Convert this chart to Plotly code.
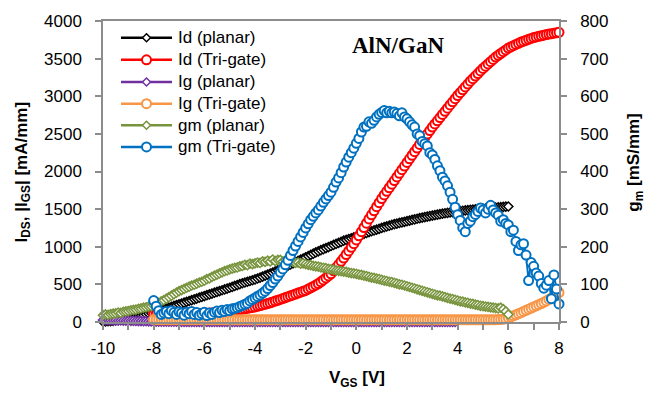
import numpy as np
import plotly.graph_objects as go

# Gate-voltage sweeps (V), 0.1 V step
VGS_PLANAR = np.round(np.arange(-10.0, 6.0001, 0.1), 1)
VGS_TRIGATE = np.round(np.arange(-8.0, 8.0001, 0.1), 1)

# X-axis tick positions and labels
X_TICKS = [-10, -8, -6, -4, -2, 0, 2, 4, 6, 8]
X_TICK_LABELS = ["-10", "-8", "-6", "-4", "-2", "0", "2", "4", "6", "8"]

# Drain current, planar device (mA/mm), Vgs = -10 ... 6
ID_PLANAR = [
    5, 7, 10, 13, 16, 20, 25, 30, 35, 40,
    45, 53, 61, 69, 77, 85, 94, 103, 112, 121,
    130, 140, 150, 160, 170, 180, 191, 202, 213, 224,
    235, 246, 257, 268, 279, 290, 301, 312, 323, 334,
    345, 356, 367, 378, 389, 400, 411, 422, 433, 444,
    455, 467, 479, 491, 503, 515, 525, 535, 545, 555,
    565, 578, 591, 604, 617, 630, 644, 658, 672, 686,
    700, 716, 732, 748, 764, 780, 796, 812, 828, 844,
    860, 876, 892, 908, 924, 940, 954, 968, 982, 996,
    1010, 1024, 1038, 1052, 1066, 1080, 1091, 1102, 1113, 1124,
    1135, 1147, 1159, 1171, 1183, 1195, 1206, 1217, 1228, 1239,
    1250, 1260, 1270, 1280, 1290, 1300, 1308, 1316, 1324, 1332,
    1340, 1348, 1356, 1364, 1372, 1380, 1387, 1394, 1401, 1408,
    1415, 1421, 1427, 1433, 1439, 1445, 1450, 1455, 1460, 1465,
    1470, 1474, 1478, 1482, 1486, 1490, 1493, 1496, 1499, 1502,
    1505, 1508, 1511, 1514, 1517, 1520, 1523, 1526, 1529, 1532,
    1535,
]

# Drain current, tri-gate device (mA/mm), Vgs = -8 ... 8
ID_TRIGATE = [
    100, 100, 101, 101, 102, 102, 103, 103, 104, 104,
    105, 106, 107, 108, 109, 110, 111, 112, 113, 114,
    115, 117, 119, 121, 124, 127, 130, 134, 137, 141,
    145, 150, 155, 160, 165, 170, 176, 182, 188, 194,
    200, 209, 218, 227, 236, 245, 256, 267, 278, 289,
    300, 312, 324, 336, 348, 360, 372, 384, 396, 408,
    420, 437, 454, 472, 491, 510, 534, 559, 585, 612,
    640, 680, 721, 763, 806, 850, 897, 944, 992, 1041,
    1090, 1145, 1200, 1256, 1313, 1370, 1424, 1478, 1532, 1586,
    1640, 1688, 1736, 1784, 1832, 1880, 1928, 1976, 2024, 2072,
    2120, 2168, 2216, 2264, 2312, 2360, 2406, 2452, 2498, 2544,
    2590, 2632, 2674, 2716, 2758, 2800, 2842, 2884, 2926, 2968,
    3010, 3048, 3086, 3124, 3162, 3200, 3234, 3268, 3302, 3336,
    3370, 3400, 3430, 3460, 3490, 3520, 3544, 3568, 3592, 3616,
    3640, 3656, 3672, 3688, 3704, 3720, 3732, 3744, 3756, 3768,
    3780, 3788, 3796, 3804, 3812, 3820, 3826, 3832, 3838, 3844,
    3850,
]

# Gate leakage, planar device (mA/mm), Vgs = -10 ... 6
IG_PLANAR = [
    26, 25, 25, 24, 23, 22, 21, 20, 19, 18,
    17, 16, 15, 14, 13, 12, 11, 10, 9, 8,
    7, 6, 6, 5, 5, 5, 4, 4, 4, 4,
    3, 3, 3, 3, 3, 3, 3, 2, 2, 2,
    2, 2, 2, 2, 2, 2, 2, 2, 2, 2,
    1, 1, 1, 1, 1, 1, 1, 1, 1, 1,
    1, 1, 1, 1, 1, 1, 1, 1, 1, 1,
    1, 1, 1, 1, 1, 1, 1, 1, 1, 1,
    1, 1, 1, 1, 1, 1, 1, 1, 1, 1,
    0, 0, 0, 0, 0, 0, 0, 0, 0, 0,
    0, 0, 0, 0, 0, 0, 0, 0, 0, 0,
    0, 0, 0, 0, 0, 0, 0, 0, 0, 0,
    0, 0, 0, 0, 0, 0, 0, 0, 0, 0,
    0, 0, 0, 0, 0, 0, 0, 0, 0, 0,
    -1, -1, -1, -1, -1, -1, -1, -1, -1, -1,
    -1, -1, -2, -2, -3, -3, -4, -5, -6, -8,
    -10,
]

# Gate leakage, tri-gate device (mA/mm), Vgs = -8 ... 8
IG_TRIGATE = [
    32, 30, 31, 29, 30, 31, 30, 29, 30, 31,
    30, 29, 30, 31, 30, 29, 30, 30, 31, 30,
    29, 30, 31, 30, 29, 30, 30, 31, 30, 29,
    30, 31, 30, 29, 30, 30, 31, 30, 29, 30,
    30, 29, 30, 31, 30, 29, 30, 30, 31, 30,
    29, 30, 31, 30, 29, 30, 30, 31, 30, 29,
    30, 31, 30, 29, 30, 30, 31, 30, 29, 30,
    30, 29, 30, 31, 30, 29, 30, 30, 31, 30,
    29, 30, 31, 30, 29, 30, 30, 31, 30, 29,
    30, 31, 30, 29, 30, 30, 31, 30, 29, 30,
    30, 29, 30, 31, 30, 29, 30, 30, 31, 30,
    29, 30, 31, 30, 29, 30, 30, 31, 30, 29,
    30, 31, 30, 29, 30, 30, 31, 30, 29, 30,
    30, 29, 30, 31, 30, 31, 32, 34, 37, 42,
    55, 68, 82, 96, 110, 124, 140, 155, 170, 185,
    200, 215, 230, 246, 262, 280, 300, 320, 342, 365,
    392,
]

# Transconductance, planar device (mS/mm), Vgs = -10 ... 6
GM_PLANAR = [
    18, 20, 19, 21, 22, 23, 25, 24, 27, 28,
    29, 31, 32, 33, 35, 36, 38, 39, 41, 42,
    44, 48, 51, 55, 58, 62, 66, 70, 74, 78,
    82, 85, 88, 91, 94, 97, 99, 102, 105, 107,
    110, 114, 116, 120, 123, 126, 129, 132, 135, 137,
    140, 142, 144, 145, 148, 149, 152, 151, 155, 154,
    156, 158, 157, 161, 160, 163, 161, 166, 162, 165,
    165, 161, 164, 159, 161, 160, 157, 158, 155, 156,
    154, 152, 151, 149, 148, 147, 145, 144, 143, 141,
    140, 139, 137, 136, 135, 134, 133, 131, 130, 129,
    128, 126, 125, 123, 122, 120, 118, 117, 115, 114,
    112, 110, 109, 107, 106, 104, 102, 100, 99, 97,
    95, 93, 91, 89, 87, 85, 83, 81, 79, 77,
    75, 73, 71, 70, 68, 66, 64, 62, 61, 59,
    57, 55, 54, 52, 51, 49, 48, 46, 45, 43,
    42, 41, 40, 39, 38, 37, 36, 38, 34, 28,
    20,
]

# Transconductance, tri-gate device (mS/mm), Vgs = -8 ... 8
GM_TRIGATE = [
    57, 42, 30, 20, 24, 28, 22, 30, 25, 20,
    27, 24, 18, 26, 22, 28, 20, 25, 18, 22,
    26, 17, 24, 20, 26, 29, 25, 31, 28, 33,
    30, 35, 36, 38, 41, 44, 47, 50, 56, 60,
    64, 68, 72, 77, 82, 89, 97, 105, 114, 122,
    132, 141, 152, 164, 177, 190, 202, 214, 226, 238,
    250, 261, 272, 281, 290, 298, 308, 318, 327, 336,
    345, 358, 372, 383, 397, 412, 425, 438, 450, 462,
    475, 488, 505, 518, 520, 532, 528, 536, 545, 552,
    557, 562, 556, 560, 556, 558, 554, 548, 556, 545,
    540, 532, 524, 518, 500, 495, 480, 474, 468, 450,
    444, 432, 415, 402, 385, 375, 362, 345, 326, 305,
    285, 270, 250, 240, 262, 268, 280, 286, 294, 303,
    298, 290, 300, 310, 298, 290, 284, 268, 272, 262,
    258, 240, 244, 214, 190, 205, 208, 178, 110, 158,
    148, 130, 122, 102, 90, 98, 110, 62, 125, 88,
    48,
]

AXIS_GREY = "#8c8c8c"
FONT = "Liberation Sans, Arial, sans-serif"

# Plot-area geometry in pixels (used to place the hand-drawn legend)
PLOT_L, PLOT_R, PLOT_T, PLOT_B = 103, 559, 16, 322
PLOT_W, PLOT_H = PLOT_R - PLOT_L, PLOT_B - PLOT_T


def px_x(px):
    return (px - PLOT_L) / PLOT_W


def px_y(py):
    return (PLOT_B - py) / PLOT_H


def diamond_series(x, y, name, color, axis="y"):
    return go.Scatter(
        x=x, y=y, name=name, mode="lines+markers", yaxis=axis, cliponaxis=False,
        showlegend=False,
        line=dict(color=color, width=2.5),
        marker=dict(symbol="diamond", size=7, color="white",
                    line=dict(color=color, width=1.5)),
    )


def circle_series(x, y, name, color, axis="y"):
    return go.Scatter(
        x=x, y=y, name=name, mode="lines+markers", yaxis=axis, cliponaxis=False,
        showlegend=False,
        line=dict(color=color, width=2),
        marker=dict(symbol="circle", size=9, color="white",
                    line=dict(color=color, width=2)),
    )


SERIES = [
    ("Id (planar)", "#000000", "diamond"),
    ("Id (Tri-gate)", "#ff0000", "circle"),
    ("Ig (planar)", "#7030a0", "diamond"),
    ("Ig (Tri-gate)", "#f79646", "circle"),
    ("gm (planar)", "#77933c", "diamond"),
    ("gm (Tri-gate)", "#0070c0", "circle"),
]

fig = go.Figure()
fig.add_trace(diamond_series(VGS_PLANAR, ID_PLANAR, SERIES[0][0], SERIES[0][1]))
fig.add_trace(circle_series(VGS_TRIGATE, ID_TRIGATE, SERIES[1][0], SERIES[1][1]))
fig.add_trace(diamond_series(VGS_PLANAR, IG_PLANAR, SERIES[2][0], SERIES[2][1]))
fig.add_trace(circle_series(VGS_TRIGATE, IG_TRIGATE, SERIES[3][0], SERIES[3][1]))
fig.add_trace(diamond_series(VGS_PLANAR, GM_PLANAR, SERIES[4][0], SERIES[4][1], "y2"))
fig.add_trace(circle_series(VGS_TRIGATE, GM_TRIGATE, SERIES[5][0], SERIES[5][1], "y2"))

# Legend drawn with long line samples, as in the original figure
legend_rows = [33, 55.5, 78, 100, 122, 144]
shapes, annotations = [], []
for (name, color, symbol), row in zip(SERIES, legend_rows):
    ly = px_y(row)
    width = 2.5 if symbol == "diamond" else 2
    shapes.append(dict(type="line", xref="paper", yref="paper",
                       x0=px_x(121), x1=px_x(172), y0=ly, y1=ly,
                       line=dict(color=color, width=2.5)))
    if symbol == "circle":
        shapes.append(dict(type="circle", xref="paper", yref="paper",
                           xsizemode="pixel", ysizemode="pixel",
                           xanchor=px_x(146.5), yanchor=ly,
                           x0=-4.5, x1=4.5, y0=-4.5, y1=4.5,
                           fillcolor="white", line=dict(color=color, width=2)))
    else:
        shapes.append(dict(type="path", xref="paper", yref="paper",
                           xsizemode="pixel", ysizemode="pixel",
                           xanchor=px_x(146.5), yanchor=ly,
                           path="M0,4 L4,0 L0,-4 L-4,0 Z",
                           fillcolor="white", line=dict(color=color, width=1.5)))
    annotations.append(dict(text=name, x=px_x(176), y=ly, xref="paper", yref="paper",
                            xanchor="left", yanchor="middle", showarrow=False,
                            font=dict(family=FONT, size=17, color="black")))

annotations += [
    dict(text="<b>AlN/GaN</b>", x=px_x(398), y=px_y(41), xref="paper", yref="paper",
         xanchor="center", yanchor="middle", showarrow=False,
         font=dict(family="Liberation Serif, Times New Roman, serif", size=23, color="black")),
    dict(text="<b>V<sub>GS</sub> [V]</b>", x=px_x(357), y=px_y(380), xref="paper", yref="paper",
         xanchor="center", yanchor="middle", showarrow=False,
         font=dict(family=FONT, size=17, color="black")),
    dict(text="<b>I<sub>DS</sub>, |I<sub>GS</sub>| [mA/mm]</b>", x=px_x(23), y=px_y(170),
         xref="paper", yref="paper", xanchor="center", yanchor="middle",
         textangle=-90, showarrow=False, font=dict(family=FONT, size=17, color="black")),
    dict(text="<b>g<sub>m</sub> [mS/mm]</b>", x=px_x(635), y=px_y(160),
         xref="paper", yref="paper", xanchor="center", yanchor="middle",
         textangle=-90, showarrow=False, font=dict(family=FONT, size=17, color="black")),
]

axis_common = dict(
    showgrid=False, zeroline=False, showline=True, linecolor=AXIS_GREY, linewidth=1.5,
    ticks="outside", ticklen=6, tickwidth=1.5, tickcolor=AXIS_GREY,
    tickfont=dict(family=FONT, size=17, color="black"),
)

fig.update_layout(
    width=660, height=395,
    margin=dict(l=PLOT_L, r=660 - PLOT_R, t=PLOT_T, b=395 - PLOT_B),
    paper_bgcolor="white", plot_bgcolor="white",
    font=dict(family=FONT, size=17, color="black"),
    showlegend=False,
    xaxis=dict(range=[-10, 8], tickvals=X_TICKS, ticktext=X_TICK_LABELS, mirror=True,
               ticklabelstandoff=4,
               minor=dict(dtick=1, ticks="outside", ticklen=6, tickwidth=1.5, tickcolor=AXIS_GREY),
               **axis_common),
    yaxis=dict(range=[0, 4000], dtick=500, ticklabelstandoff=10, **axis_common),
    yaxis2=dict(range=[0, 800], dtick=100, overlaying="y", side="right",
                ticklabelstandoff=10, **axis_common),
    shapes=shapes,
    annotations=annotations,
)

fig.write_html("out.html")
